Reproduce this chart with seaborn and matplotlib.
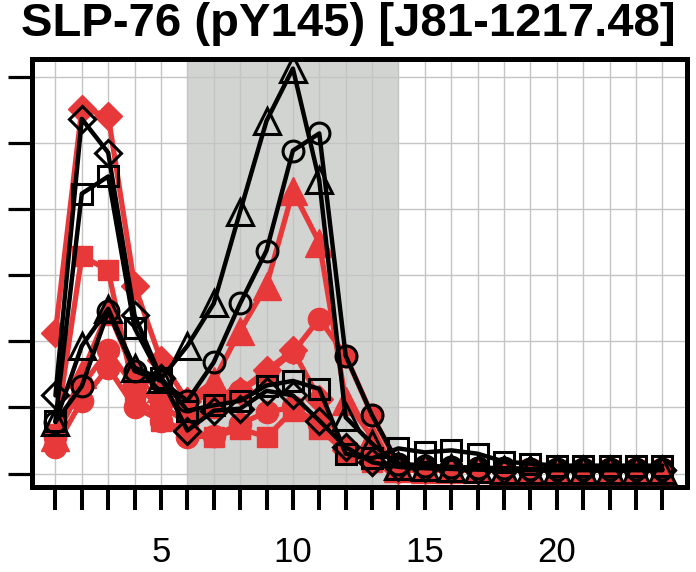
import matplotlib
matplotlib.use("Agg")
import matplotlib.pyplot as plt
import seaborn as sns

steps = list(range(1, 25))
tick_labels = {5: "5", 10: "10", 15: "15", 20: "20"}
title = "SLP-76 (pY145) [J81-1217.48]"

# black, open markers
blk_tri = [0.78, 1.93, 2.49, 1.60, 1.43, 1.93, 2.57, 3.96, 5.33, 6.12, 4.43, 0.85,
           0.45, 0.12, 0.10, 0.08, 0.07, 0.06, 0.06, 0.06, 0.06, 0.06, 0.06, 0.06]
blk_circ = [0.78, 1.32, 2.45, 1.55, 1.40, 1.10, 1.68, 2.57, 3.37, 4.88, 5.14, 1.78,
            0.88, 0.15, 0.12, 0.10, 0.09, 0.08, 0.07, 0.07, 0.07, 0.07, 0.07, 0.07]
blk_sq = [0.80, 4.23, 4.49, 2.20, 1.45, 0.95, 1.03, 1.10, 1.33, 1.40, 1.28, 0.30,
          0.23, 0.38, 0.32, 0.35, 0.30, 0.18, 0.15, 0.12, 0.12, 0.12, 0.12, 0.12]
blk_dia = [1.18, 5.36, 4.85, 2.39, 1.45, 0.65, 0.95, 0.98, 1.25, 1.18, 0.80, 0.40,
           0.17, 0.10, 0.08, 0.07, 0.06, 0.05, 0.05, 0.05, 0.05, 0.05, 0.05, 0.05]

# red, filled markers
red_tri = [0.55, 1.50, 2.46, 1.50, 1.30, 1.10, 1.40, 2.16, 2.84, 4.27, 3.49, 1.10,
           0.55, 0.08, 0.07, 0.07, 0.07, 0.06, 0.06, 0.06, 0.06, 0.06, 0.06, 0.06]
red_circ = [0.55, 1.32, 1.86, 1.30, 1.05, 0.75, 1.00, 1.25, 1.50, 1.83, 2.34, 1.78,
            0.88, 0.12, 0.10, 0.09, 0.08, 0.07, 0.07, 0.07, 0.07, 0.07, 0.07, 0.07]
red_circ2 = [0.40, 1.10, 1.60, 1.00, 0.80, 0.55, 0.57, 0.75, 0.93, 1.00, 0.75, 0.35,
             0.20, 0.10, 0.08, 0.07, 0.07, 0.06, 0.06, 0.06, 0.06, 0.06, 0.06, 0.06]
red_sq = [0.60, 3.29, 3.07, 1.20, 0.80, 0.65, 0.55, 0.68, 0.55, 0.95, 0.68, 0.32,
          0.17, 0.08, 0.07, 0.07, 0.06, 0.06, 0.06, 0.06, 0.06, 0.06, 0.06, 0.06]
red_dia = [2.13, 5.51, 5.41, 2.84, 1.71, 1.10, 1.20, 1.25, 1.56, 1.86, 1.13, 0.35,
           0.17, 0.05, 0.05, 0.05, 0.05, 0.05, 0.05, 0.05, 0.05, 0.05, 0.05, 0.05]

RED = "#e8393a"

sns.set_style("white")
plt.rcParams["font.family"] = ["Liberation Sans", "DejaVu Sans"]

fig = plt.figure(figsize=(6.96, 5.72), dpi=100)
ax = fig.add_axes([0.0455, 0.149, 0.941, 0.7473])

ax.axvspan(6, 14, color="#d2d4d2", zorder=0.2, lw=0)

red_series = [(red_circ2, "o", 16), (red_sq, "s", 15), (red_circ, "o", 16),
              (red_tri, "^", 20), (red_dia, "D", 14)]
for vals, mk, ms in red_series:
    sns.lineplot(x=steps, y=vals, ax=ax, color=RED, lw=3.8, marker=mk, markersize=ms,
                 markerfacecolor=RED, markeredgecolor=RED, markeredgewidth=1,
                 legend=False, zorder=3)

blk_series = [(blk_sq, "s", 14), (blk_dia, "D", 13), (blk_circ, "o", 15),
              (blk_tri, "^", 19)]
for vals, mk, ms in blk_series:
    sns.lineplot(x=steps, y=vals, ax=ax, color="black", lw=3.2, marker=mk, markersize=ms,
                 markerfacecolor="none", markeredgecolor="black", markeredgewidth=2.2,
                 legend=False, zorder=4)

ax.set_xlim(0.1, 24.92)
ax.set_ylim(-0.2, 6.26)
ax.set_xticks(steps)
ax.set_xticklabels([tick_labels.get(s, "") for s in steps], fontsize=25, color="black")
ax.set_yticks(range(0, 7))
ax.set_yticklabels([])
ax.tick_params(axis="x", bottom=True, length=16.5, width=2.9, pad=19, color="black")
ax.tick_params(axis="y", left=True, length=17, width=2.3, color="black")
ax.set_axisbelow(True)
ax.grid(True, color="#c4c4c4", lw=1)
for sp in ax.spines.values():
    sp.set_linewidth(3.6)
    sp.set_color("black")
ax.set_xlabel("")
ax.set_ylabel("")

fig.text(0.5, 1 - 24 / 572, title, ha="center", va="center", fontsize=34,
         fontweight="bold", color="black")

fig.savefig("out.png", dpi=100)
